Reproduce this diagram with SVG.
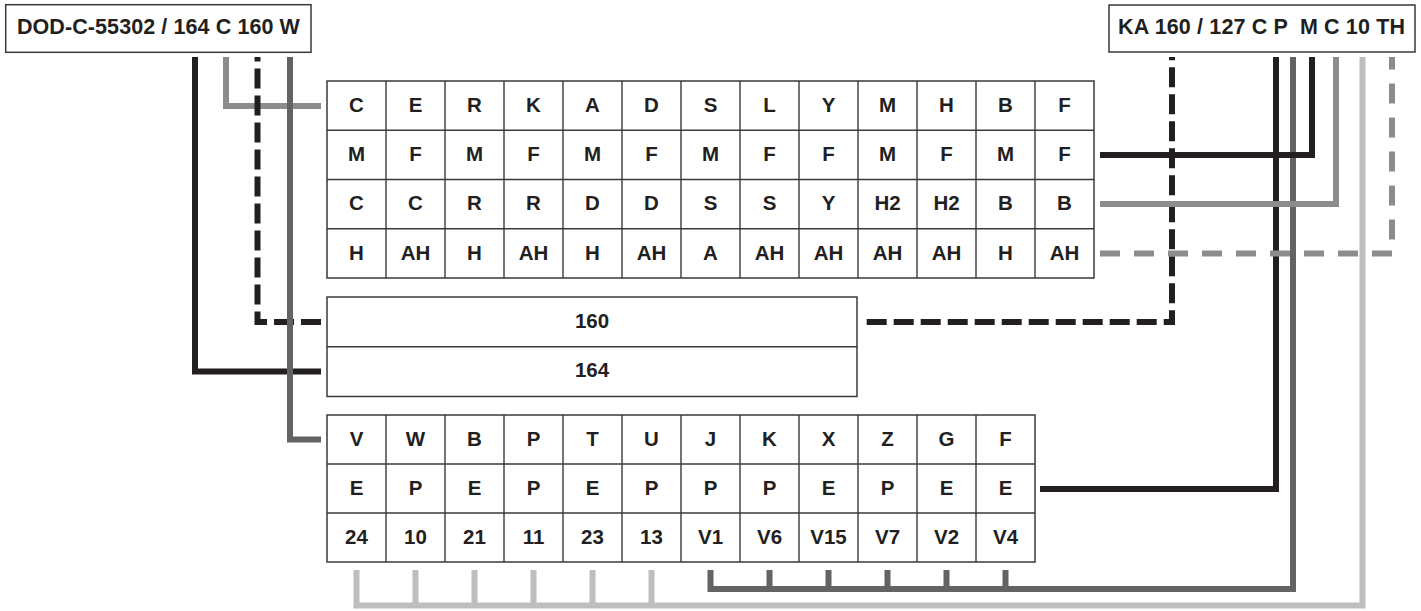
<svg xmlns="http://www.w3.org/2000/svg" width="1421" height="611" viewBox="0 0 1421 611">
<style>
  .box { fill: #ffffff; stroke: #3a3a3a; stroke-width: 1.5; }
  .grid { fill: none; stroke: #3a3a3a; stroke-width: 1.4; }
  .t { font-family: "Liberation Sans", Arial, Helvetica, sans-serif; font-weight: bold; font-size: 20.5px; fill: #231f20; text-anchor: middle; }
  .lbl { font-size: 21.5px; }
  .c { fill: none; stroke-width: 6; stroke-linecap: butt; stroke-linejoin: miter; }
  .blk { stroke: #231f20; }
  .dk { stroke: #636365; }
  .md { stroke: #8c8c8c; }
  .lt { stroke: #bdbec0; }
  .dashb { stroke-dasharray: 20 7; }
  .dashg { stroke-dasharray: 20 14; }
</style>
<rect width="1421" height="611" fill="#ffffff"/>

<g id="connectors">
  <path class="c blk" d="M195,57 V371.6 H321"/>
  <path class="c md" d="M226,57 V106 H321"/>
  <path class="c blk dashb" d="M321,321.9 H257.5 V57"/>
  <path class="c dk" d="M290,57 V439.5 H321"/>
  <path class="c blk dashb" d="M866.7,321.9 H1172 V57"/>
  <path class="c blk" d="M1276,57 V489 H1040"/>
  <path class="c dk" d="M1293,57 V589 H710.5 V570"/>
  <path class="c dk" d="M769.5,570 V589 M828.5,570 V589 M887.5,570 V589 M946.5,570 V589 M1005.5,570 V589"/>
  <path class="c blk" d="M1312,57 V155 H1100"/>
  <path class="c md" d="M1336,57 V204.1 H1100"/>
  <path class="c lt" d="M1362.5,57 V605.5 H356.5 V570"/>
  <path class="c lt" d="M415.5,570 V605.5 M474.5,570 V605.5 M533.5,570 V605.5 M592.5,570 V605.5 M651.5,570 V605.5"/>
  <path class="c md dashg" d="M1100,253.4 H1392 V57"/>
</g>

<g id="label-dod">
  <rect class="box" x="5.7" y="4.7" width="305.3" height="47.6"/>
  <text class="t lbl" x="158.4" y="34" textLength="283" lengthAdjust="spacing">DOD-C-55302 / 164 C 160 W</text>
</g>

<g id="label-ka">
  <rect class="box" x="1109" y="5" width="306" height="47"/>
  <text class="t lbl" x="1261.5" y="34" textLength="287" lengthAdjust="spacing" xml:space="preserve">KA 160 / 127 C P  M C 10 TH</text>
</g>

<g id="table-top">
  <rect class="box" x="327" y="81" width="767" height="197"/>
  <path class="grid" d="M386,81V278 M445,81V278 M504,81V278 M563,81V278 M622,81V278 M681,81V278 M740,81V278 M799,81V278 M858,81V278 M917,81V278 M976,81V278 M1035,81V278 M327,130.25H1094 M327,179.5H1094 M327,228.75H1094"/>
  <g>
    <text class="t" x="356.5" y="111.8">C</text><text class="t" x="415.5" y="111.8">E</text><text class="t" x="474.5" y="111.8">R</text><text class="t" x="533.5" y="111.8">K</text><text class="t" x="592.5" y="111.8">A</text><text class="t" x="651.5" y="111.8">D</text><text class="t" x="710.5" y="111.8">S</text><text class="t" x="769.5" y="111.8">L</text><text class="t" x="828.5" y="111.8">Y</text><text class="t" x="887.5" y="111.8">M</text><text class="t" x="946.5" y="111.8">H</text><text class="t" x="1005.5" y="111.8">B</text><text class="t" x="1064.5" y="111.8">F</text>
  </g>
  <g>
    <text class="t" x="356.5" y="161.1">M</text><text class="t" x="415.5" y="161.1">F</text><text class="t" x="474.5" y="161.1">M</text><text class="t" x="533.5" y="161.1">F</text><text class="t" x="592.5" y="161.1">M</text><text class="t" x="651.5" y="161.1">F</text><text class="t" x="710.5" y="161.1">M</text><text class="t" x="769.5" y="161.1">F</text><text class="t" x="828.5" y="161.1">F</text><text class="t" x="887.5" y="161.1">M</text><text class="t" x="946.5" y="161.1">F</text><text class="t" x="1005.5" y="161.1">M</text><text class="t" x="1064.5" y="161.1">F</text>
  </g>
  <g>
    <text class="t" x="356.5" y="210.3">C</text><text class="t" x="415.5" y="210.3">C</text><text class="t" x="474.5" y="210.3">R</text><text class="t" x="533.5" y="210.3">R</text><text class="t" x="592.5" y="210.3">D</text><text class="t" x="651.5" y="210.3">D</text><text class="t" x="710.5" y="210.3">S</text><text class="t" x="769.5" y="210.3">S</text><text class="t" x="828.5" y="210.3">Y</text><text class="t" x="887.5" y="210.3">H2</text><text class="t" x="946.5" y="210.3">H2</text><text class="t" x="1005.5" y="210.3">B</text><text class="t" x="1064.5" y="210.3">B</text>
  </g>
  <g>
    <text class="t" x="356.5" y="259.6">H</text><text class="t" x="415.5" y="259.6">AH</text><text class="t" x="474.5" y="259.6">H</text><text class="t" x="533.5" y="259.6">AH</text><text class="t" x="592.5" y="259.6">H</text><text class="t" x="651.5" y="259.6">AH</text><text class="t" x="710.5" y="259.6">A</text><text class="t" x="769.5" y="259.6">AH</text><text class="t" x="828.5" y="259.6">AH</text><text class="t" x="887.5" y="259.6">AH</text><text class="t" x="946.5" y="259.6">AH</text><text class="t" x="1005.5" y="259.6">H</text><text class="t" x="1064.5" y="259.6">AH</text>
  </g>
</g>

<g id="box-middle">
  <rect class="box" x="327" y="297" width="530" height="99.5"/>
  <path class="grid" d="M327,346.75H857"/>
  <text class="t" x="592" y="327.5">160</text>
  <text class="t" x="592" y="377.2">164</text>
</g>

<g id="table-bottom">
  <rect class="box" x="327" y="415" width="708" height="147"/>
  <path class="grid" d="M386,415V562 M445,415V562 M504,415V562 M563,415V562 M622,415V562 M681,415V562 M740,415V562 M799,415V562 M858,415V562 M917,415V562 M976,415V562 M327,464H1035 M327,513H1035"/>
  <g>
    <text class="t" x="356.5" y="446.2">V</text><text class="t" x="415.5" y="446.2">W</text><text class="t" x="474.5" y="446.2">B</text><text class="t" x="533.5" y="446.2">P</text><text class="t" x="592.5" y="446.2">T</text><text class="t" x="651.5" y="446.2">U</text><text class="t" x="710.5" y="446.2">J</text><text class="t" x="769.5" y="446.2">K</text><text class="t" x="828.5" y="446.2">X</text><text class="t" x="887.5" y="446.2">Z</text><text class="t" x="946.5" y="446.2">G</text><text class="t" x="1005.5" y="446.2">F</text>
  </g>
  <g>
    <text class="t" x="356.5" y="495.2">E</text><text class="t" x="415.5" y="495.2">P</text><text class="t" x="474.5" y="495.2">E</text><text class="t" x="533.5" y="495.2">P</text><text class="t" x="592.5" y="495.2">E</text><text class="t" x="651.5" y="495.2">P</text><text class="t" x="710.5" y="495.2">P</text><text class="t" x="769.5" y="495.2">P</text><text class="t" x="828.5" y="495.2">E</text><text class="t" x="887.5" y="495.2">P</text><text class="t" x="946.5" y="495.2">E</text><text class="t" x="1005.5" y="495.2">E</text>
  </g>
  <g>
    <text class="t" x="356.5" y="544.2">24</text><text class="t" x="415.5" y="544.2">10</text><text class="t" x="474.5" y="544.2">21</text><text class="t" x="533.5" y="544.2">11</text><text class="t" x="592.5" y="544.2">23</text><text class="t" x="651.5" y="544.2">13</text><text class="t" x="710.5" y="544.2">V1</text><text class="t" x="769.5" y="544.2">V6</text><text class="t" x="828.5" y="544.2">V15</text><text class="t" x="887.5" y="544.2">V7</text><text class="t" x="946.5" y="544.2">V2</text><text class="t" x="1005.5" y="544.2">V4</text>
  </g>
</g>
</svg>
